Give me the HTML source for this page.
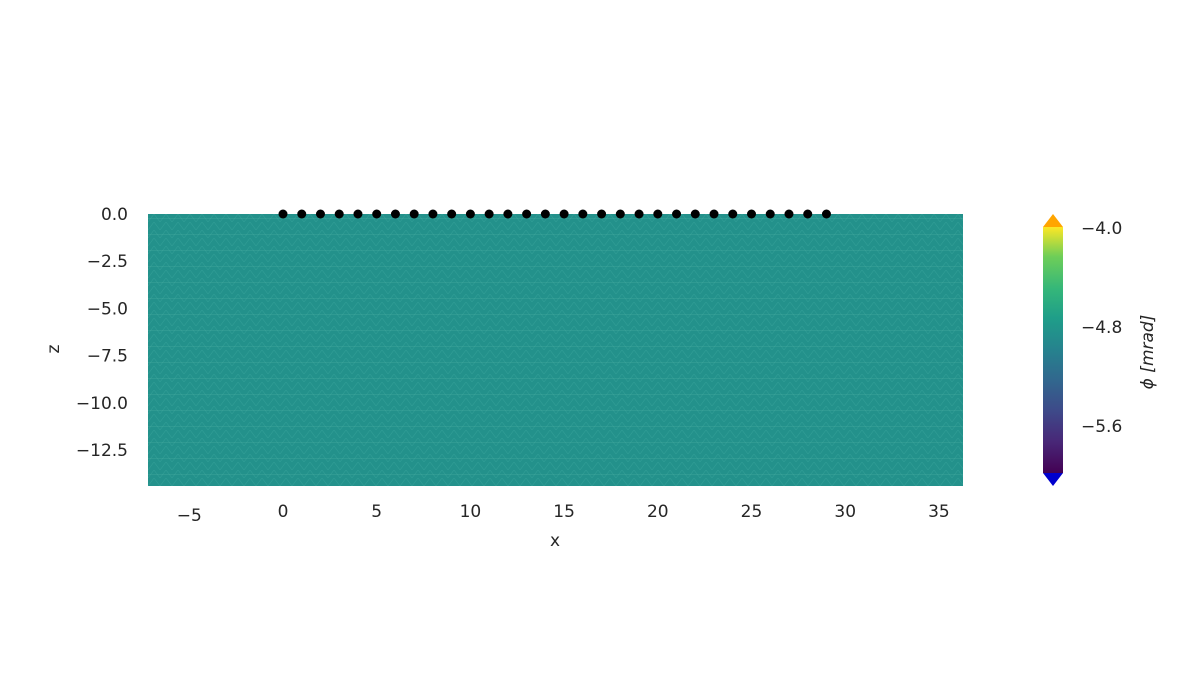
<!DOCTYPE html>
<html><head><meta charset="utf-8"><style>
body{margin:0;background:#fff;font-family:"DejaVu Sans","Liberation Sans",sans-serif;}
svg text{fill:#262626;font-size:17px;}
</style></head><body>
<svg width="1181" height="693" xmlns="http://www.w3.org/2000/svg">
<defs>
<pattern id="mesh" x="148" y="214" width="12" height="8" patternUnits="userSpaceOnUse">
<rect width="12" height="8" fill="#23918b"/>
<path d="M0,8 L6,0 L12,8" stroke="#3ba69d" stroke-width="0.6" fill="none" opacity="0.6"/>
</pattern>
<pattern id="hl" x="148" y="218" width="24" height="16" patternUnits="userSpaceOnUse">
<path d="M0,0 L24,0" stroke="#45ab9f" stroke-width="1" opacity="0.7"/>
</pattern>
<linearGradient id="vir" x1="0" y1="1" x2="0" y2="0">
<stop offset="0" stop-color="#440154"/><stop offset="0.13" stop-color="#482878"/>
<stop offset="0.25" stop-color="#3e4989"/><stop offset="0.38" stop-color="#31688e"/>
<stop offset="0.5" stop-color="#26828e"/><stop offset="0.63" stop-color="#1f9e89"/>
<stop offset="0.75" stop-color="#35b779"/><stop offset="0.88" stop-color="#6ece58"/>
<stop offset="1" stop-color="#fde725"/>
</linearGradient>
</defs>
<rect x="148" y="214" width="815" height="272" fill="url(#mesh)"/>
<rect x="148" y="214" width="815" height="272" fill="url(#hl)"/>
<g id="ticks"></g>
<g id="elec"></g>
<text x="555" y="546" text-anchor="middle">x</text>
<text x="0" y="0" text-anchor="middle" transform="translate(59,349) rotate(-90)">z</text>
<g>
<polygon points="1043,227 1053,214 1063,227" fill="#ffa500"/>
<rect x="1043" y="227" width="20" height="246" fill="url(#vir)"/>
<polygon points="1043,473 1053,486 1063,473" fill="#0000cd"/>
</g>
<g id="cbt"></g>
<text x="0" y="0" text-anchor="middle" transform="translate(1153,352) rotate(-90)" style="font-style:italic">ϕ [mrad]</text>
</svg>
<script>
const xTicks=[-5,0,5,10,15,20,25,30,35];
const zTicks=[0,-2.5,-5,-7.5,-10,-12.5];
const electrodes=[0,1,2,3,4,5,6,7,8,9,10,11,12,13,14,15,16,17,18,19,20,21,22,23,24,25,26,27,28,29];
const cbTicks=[-4.0,-4.8,-5.6];
const sx=v=>283+v*18.74, sz=v=>214-v*18.88, sc=v=>228+(-4.0-v)*123.75;
const NS="http://www.w3.org/2000/svg";
const fmt=v=>(v<0?"\u2212":"")+Math.abs(v);
const g=document.getElementById('ticks');
xTicks.forEach(v=>{const t=document.createElementNS(NS,'text');
t.setAttribute('x',sx(v));t.setAttribute('y',v<0?521:517);t.setAttribute('text-anchor','middle');
t.textContent=fmt(v);


g.appendChild(t);});
zTicks.forEach(v=>{const t=document.createElementNS(NS,'text');
t.setAttribute('x',128);t.setAttribute('y',sz(v)+6);t.setAttribute('text-anchor','end');
t.textContent=fmt(v)+(Number.isInteger(v)?".0":"");


g.appendChild(t);});
const e=document.getElementById('elec');
electrodes.forEach(v=>{const c=document.createElementNS(NS,'circle');
c.setAttribute('cx',sx(v));c.setAttribute('cy',214);c.setAttribute('r',4.5);c.setAttribute('fill','#000');


e.appendChild(c);});
const cb=document.getElementById('cbt');
cbTicks.forEach(v=>{const t=document.createElementNS(NS,'text');
t.setAttribute('x',1081);t.setAttribute('y',sc(v)+6);
t.textContent=fmt(v).replace(/^(\u2212\d)$/,'$1.0');


cb.appendChild(t);});
</script>
</body></html>
